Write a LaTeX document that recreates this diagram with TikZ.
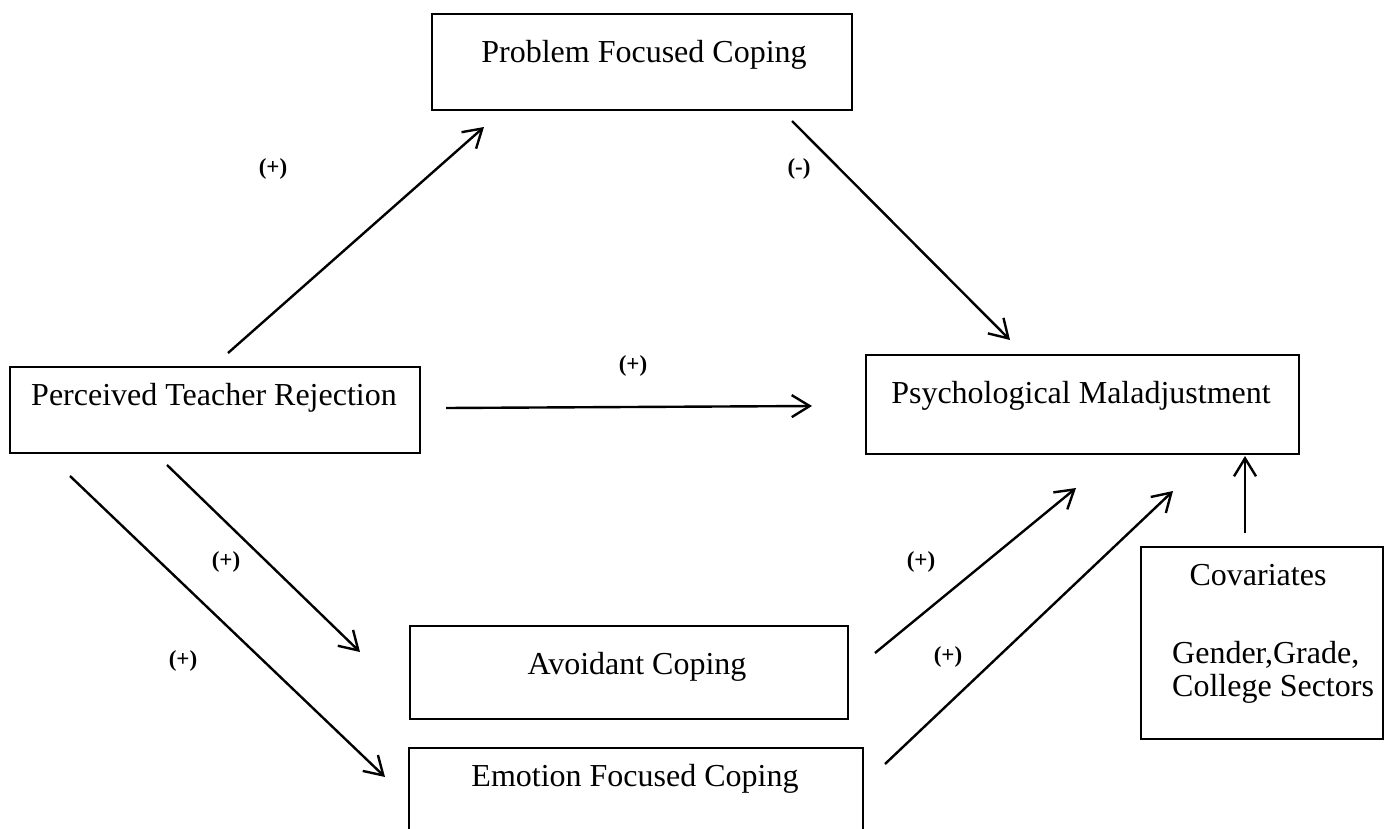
\documentclass[tikz,border=0pt]{standalone}
\usepackage{fontspec}
\setmainfont{Liberation Serif}
\usetikzlibrary{arrows.meta}
\tikzset{
  box/.style={draw, line width=1.6pt, rectangle, inner sep=0pt, anchor=north west},
  txt/.style={anchor=base, inner sep=0pt, font=\fontsize{32}{38}\selectfont},
  sign/.style={inner sep=0pt, font=\fontsize{23}{27}\selectfont\bfseries},
  link/.style={line width=2.4pt, -{Straight Barb[length=18pt, width=22pt, line width=2.4pt]}},
}
\begin{document}
\begin{tikzpicture}[x=1pt, y=-1pt]
\useasboundingbox (0,0) rectangle (1391,829);
\clip (0,0) rectangle (1391,829);

% boxes
\node[box, minimum width=420pt, minimum height=96pt] (pfc) at (431,13) {};
\node[box, minimum width=410pt, minimum height=86pt] (ptr) at (9,366) {};
\node[box, minimum width=433pt, minimum height=99pt] (pm) at (865,354) {};
\node[box, minimum width=438pt, minimum height=93pt] (ac) at (409,625) {};
\node[box, minimum width=454pt, minimum height=120pt] (efc) at (408,747) {};
\node[box, minimum width=242pt, minimum height=192pt] (cov) at (1140,546) {};

% box texts
\node[txt] (pfcT) at (644,63) {Problem Focused Coping};
\node[txt] (ptrT) at (214,405) {Perceived Teacher Rejection};
\node[txt] (pmT) at (1081,403) {Psychological Maladjustment};
\node[txt] (acT) at (637,674) {Avoidant Coping};
\node[txt] (efcT) at (635,786) {Emotion Focused Coping};
\node[txt] (covT) at (1258,585) {Covariates};
\node[txt, anchor=base west] (covA) at (1172,663) {Gender,Grade,};
\node[txt, anchor=base west] (covB) at (1172,696) {College Sectors};

% arrow end points
\coordinate (p1s) at (228,353);  \coordinate (p1e) at (484,127);
\coordinate (p2s) at (792,121);  \coordinate (p2e) at (1010,340);
\coordinate (p3s) at (446,408);  \coordinate (p3e) at (812,406);
\coordinate (p4s) at (167,465);  \coordinate (p4e) at (360,652);
\coordinate (p5s) at (70,476);   \coordinate (p5e) at (385,777);
\coordinate (p6s) at (875,653);  \coordinate (p6e) at (1076,488);
\coordinate (p7s) at (885,764);  \coordinate (p7e) at (1173,491);
\coordinate (p8s) at (1245,533); \coordinate (p8e) at (1245,456);

% paths
\draw[link] (p1s) -- (p1e);
\draw[link] (p2s) -- (p2e);
\draw[link] (p3s) -- (p3e);
\draw[link] (p4s) -- (p4e);
\draw[link] (p5s) -- (p5e);
\draw[link] (p6s) -- (p6e);
\draw[link] (p7s) -- (p7e);
\draw[link] (p8s) -- (p8e);

% signs
\node[sign] (s1) at (273,169) {(+)};
\node[sign] (s2) at (799,169) {(-)};
\node[sign] (s3) at (633,366) {(+)};
\node[sign] (s4) at (226,562) {(+)};
\node[sign] (s5) at (183,661) {(+)};
\node[sign] (s6) at (921,562) {(+)};
\node[sign] (s7) at (948,657) {(+)};
\end{tikzpicture}
\end{document}
